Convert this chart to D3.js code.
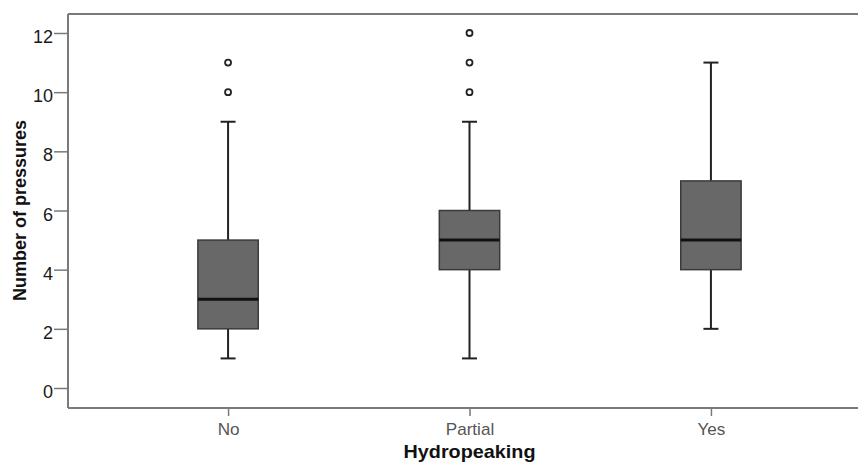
<!DOCTYPE html>
<html>
<head>
<meta charset="utf-8">
<script src="https://cdn.jsdelivr.net/npm/d3@7"></script>
<style>
  html, body { margin: 0; padding: 0; background: #ffffff; }
  svg { display: block; }
</style>
</head>
<body>
<svg id="chart" width="858" height="462"></svg>
<script>
// Box-plot summary per hydropeaking class
const categories = ["No", "Partial", "Yes"];
const whiskerLow  = [1, 1, 2];
const q1          = [2, 4, 4];
const median      = [3, 5, 5];
const q3          = [5, 6, 7];
const whiskerHigh = [9, 9, 11];
const outliers    = [[10, 11], [10, 11, 12], []];
const yTicks      = [0, 2, 4, 6, 8, 10, 12];

const svg = d3.select("#chart");
const W = 858, H = 462;
const plotLeft = 68, plotTop = 14, plotBottom = 408, plotRight = 871;
const stretch = 1.07; // horizontal text widening

const x = d3.scalePoint().domain(categories).range([plotLeft, plotRight]).padding(0.663);
const y = d3.scaleLinear().domain([-0.676, 12.642]).range([plotBottom, plotTop]);

const boxW = x.step() * 0.25;
const capW = 15;
const font = "Liberation Sans, Arial, sans-serif";

// frame: top and bottom rules plus left axis line
const frame = svg.append("g").attr("stroke", "#7a7a7a").attr("stroke-width", 2).attr("fill", "none");
frame.append("line").attr("x1", plotLeft).attr("x2", W).attr("y1", plotTop).attr("y2", plotTop);
frame.append("line").attr("x1", plotLeft).attr("x2", W).attr("y1", plotBottom).attr("y2", plotBottom);

// y axis
const yAxis = svg.append("g")
  .attr("transform", `translate(${plotLeft},0)`)
  .call(d3.axisLeft(y).tickValues(yTicks).tickSize(14).tickPadding(1).tickFormat(d3.format("d")));
yAxis.select(".domain").attr("stroke", "#7a7a7a").attr("stroke-width", 2)
  .attr("d", `M0,${plotTop}V${plotBottom}`);
yAxis.selectAll(".tick line").attr("stroke", "#7a7a7a").attr("stroke-width", 1.5);
yAxis.selectAll(".tick text")
  .attr("fill", "#1a1a1a").attr("font-family", font)
  .attr("font-size", 18).attr("dy", "0.53em");

// x axis
const xAxis = svg.append("g")
  .attr("transform", `translate(0,${plotBottom})`)
  .call(d3.axisBottom(x).tickSize(8));
xAxis.select(".domain").remove();
xAxis.selectAll(".tick line").attr("stroke", "#7a7a7a").attr("stroke-width", 1.5);
xAxis.selectAll(".tick text")
  .attr("y", 27).attr("dy", null)
  .attr("transform", `scale(${stretch},1)`)
  .attr("fill", "#555").attr("font-family", font)
  .attr("font-size", 16);

// axis titles
svg.append("text")
  .attr("transform", `translate(${x("Partial")},458) scale(1.1,1)`)
  .attr("text-anchor", "middle")
  .attr("font-family", font)
  .attr("font-weight", "bold").attr("font-size", 18).attr("fill", "#111")
  .text("Hydropeaking");

svg.append("text")
  .attr("transform", `translate(26,210.5) scale(${stretch},1) rotate(-90)`)
  .attr("text-anchor", "middle")
  .attr("font-family", font)
  .attr("font-weight", "bold").attr("font-size", 18).attr("fill", "#111")
  .text("Number of pressures");

// boxes
const g = svg.append("g");
categories.forEach((c, i) => {
  const cx = x(c);
  // whiskers
  g.append("line").attr("x1", cx).attr("x2", cx)
    .attr("y1", y(q3[i])).attr("y2", y(whiskerHigh[i]))
    .attr("stroke", "#222").attr("stroke-width", 2);
  g.append("line").attr("x1", cx).attr("x2", cx)
    .attr("y1", y(q1[i])).attr("y2", y(whiskerLow[i]))
    .attr("stroke", "#222").attr("stroke-width", 2);
  // caps
  [whiskerLow[i], whiskerHigh[i]].forEach(v => {
    g.append("line").attr("x1", cx - capW / 2).attr("x2", cx + capW / 2)
      .attr("y1", y(v)).attr("y2", y(v))
      .attr("stroke", "#222").attr("stroke-width", 2);
  });
  // box
  g.append("rect")
    .attr("x", cx - boxW / 2).attr("width", boxW)
    .attr("y", y(q3[i])).attr("height", y(q1[i]) - y(q3[i]))
    .attr("fill", "#686868").attr("stroke", "#3a3a3a").attr("stroke-width", 1.5);
  // median
  g.append("line").attr("x1", cx - boxW / 2).attr("x2", cx + boxW / 2)
    .attr("y1", y(median[i])).attr("y2", y(median[i]))
    .attr("stroke", "#111").attr("stroke-width", 3);
  // outliers
  outliers[i].forEach(v => {
    g.append("circle").attr("cx", cx).attr("cy", y(v)).attr("r", 3)
      .attr("fill", "#fff").attr("stroke", "#222").attr("stroke-width", 1.8);
  });
});
</script>
</body>
</html>
